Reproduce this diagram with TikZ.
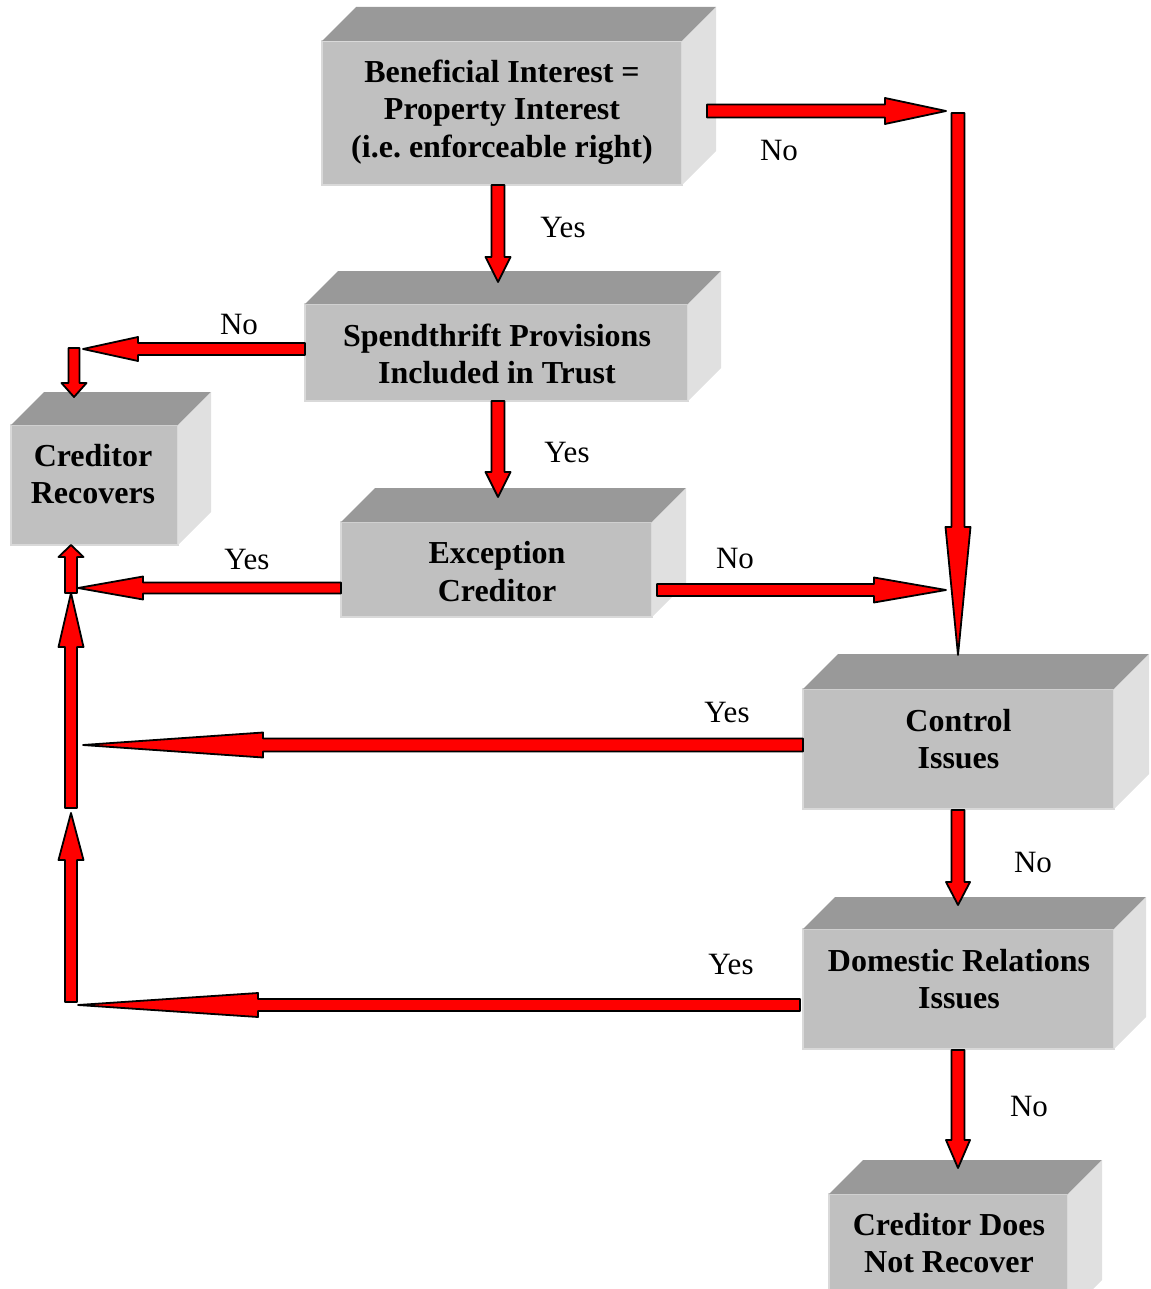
\documentclass[tikz,border=0pt]{standalone}
\usepackage{fontspec}
\setmainfont{Liberation Serif}
\usetikzlibrary{calc}
\frenchspacing

\definecolor{facefront}{HTML}{C0C0C0}
\definecolor{facetop}{HTML}{999999}
\definecolor{faceside}{HTML}{E0E0E0}
\definecolor{arrowred}{HTML}{FF0000}

\tikzset{
  front/.style={draw=facefront!60!white, line width=1.2pt, fill=facefront,
                inner sep=0pt, outer sep=0pt},
  boxtext/.style={align=center, inner sep=0pt,
                  font=\fontsize{32}{37.5}\selectfont\bfseries},
  answer/.style={anchor=base, inner sep=0pt, font=\fontsize{31}{36}\selectfont},
  redarrow/.style={fill=arrowred, draw=black, line width=1.8pt, line join=round},
}

% top and right faces of a block whose front face is node #1, depth #2
\newcommand\cubefaces[2]{%
  \fill[facetop] (#1.north west) -- ([shift={(#2,-#2)}]#1.north west)
     -- ([shift={(#2,-#2)}]#1.north east) -- (#1.north east) -- cycle;
  \fill[faceside] (#1.north east) -- ([shift={(#2,-#2)}]#1.north east)
     -- ([shift={(#2,-#2)}]#1.south east) -- (#1.south east) -- cycle;
}

% block arrow from #1 to tip #2; shaft half width #3, head half width #4, head length #5
\newcommand\blockarrow[5]{%
  \coordinate (ba-h) at ($(#2)!#5pt!(#1)$);
  \filldraw[redarrow] ($(#1)!#3pt!90:(#2)$) -- ($(ba-h)!#3pt!-90:(#1)$)
     -- ($(ba-h)!#4pt!-90:(#1)$) -- (#2) -- ($(ba-h)!#4pt!90:(#1)$)
     -- ($(ba-h)!#3pt!90:(#1)$) -- ($(#1)!#3pt!-90:(#2)$) -- cycle;
}

\begin{document}
\begin{tikzpicture}[x=1pt, y=-1pt]
\useasboundingbox (0,0) rectangle (1150,1289);
\clip (0,0) rectangle (1150,1289);

% ---- blocks ----
\node[front, minimum width=360, minimum height=144] (b1) at (502,113) {};
\cubefaces{b1}{34}
\node[boxtext] (t1) at (502,112) {Beneficial Interest =\\Property Interest\\(i.e. enforceable right)};

\node[front, minimum width=383, minimum height=97] (b2) at (496.5,352.5) {};
\cubefaces{b2}{33}
\node[boxtext] (t2) at (497,354) {Spendthrift Provisions\\Included in Trust};

\node[front, minimum width=167, minimum height=120] (b3) at (94.5,485) {};
\cubefaces{b3}{33}
\node[boxtext] (t3) at (93,474) {Creditor\\Recovers};

\node[front, minimum width=311, minimum height=95] (b4) at (496.5,569.5) {};
\cubefaces{b4}{34}
\node[boxtext] (t4) at (497,571.5) {Exception\\Creditor};

\node[front, minimum width=311, minimum height=120] (b5) at (958.5,749) {};
\cubefaces{b5}{35}
\node[boxtext] (t5) at (958.5,739) {Control\\Issues};

\node[front, minimum width=311, minimum height=120] (b6) at (958.5,989) {};
\cubefaces{b6}{32}
\node[boxtext] (t6) at (959,979) {Domestic Relations\\Issues};

\node[front, minimum width=239, minimum height=120] (b7) at (948.5,1254) {};
\cubefaces{b7}{34}
\node[boxtext] (t7) at (949,1243) {Creditor Does\\Not Recover};

% ---- connector ends ----
\coordinate (s1) at ([xshift=-4pt]b1.south);
\coordinate (e1) at (498,282);
\coordinate (s2) at (707,111);
\coordinate (e2) at (946,111);
\coordinate (s3) at (958,113);
\coordinate (e3) at (958,655);
\coordinate (s4) at ([xshift=1.5pt]b2.south);
\coordinate (e4) at (498,497);
\coordinate (s4b) at (657,590);
\coordinate (e4b) at (946,590);
\coordinate (s5) at ([yshift=3.5pt]b2.west);
\coordinate (e5) at (83,349);
\coordinate (s6) at (74,348);
\coordinate (e6) at (74,397);
\coordinate (s7) at (b4.west |- 0,588);
\coordinate (e7) at (78,588);
\coordinate (s8) at (71,593);
\coordinate (e8) at (71,545);
\coordinate (s9) at (71,808);
\coordinate (e9) at (71,593);
\coordinate (s10) at (71,1002);
\coordinate (e10) at (71,813);
\coordinate (s11) at (b5.west |- 0,745);
\coordinate (e11) at (83,745);
\coordinate (s12) at (800,1005);
\coordinate (e12) at (78,1005);
\coordinate (s13) at (958,810);
\coordinate (e13) at (958,905);
\coordinate (s14) at (958,1050);
\coordinate (e14) at (958,1168);

% ---- arrows ----
\blockarrow{s1}{e1}{6.5}{12.5}{25}
\blockarrow{s2}{e2}{6.5}{13}{61}
\blockarrow{s3}{e3}{6.5}{12.5}{128}
\blockarrow{s4}{e4}{6.5}{12.5}{25}
\blockarrow{s4b}{e4b}{6}{12.5}{72}
\blockarrow{s5}{e5}{6}{12}{55}
\blockarrow{s6}{e6}{5.5}{12.5}{14}
\blockarrow{s7}{e7}{5.5}{11.5}{65}
\blockarrow{s8}{e8}{6}{12.5}{12}
\blockarrow{s9}{e9}{6}{12.5}{54}
\blockarrow{s10}{e10}{6}{12.5}{47}
\blockarrow{s11}{e11}{6.5}{12.5}{180}
\blockarrow{s12}{e12}{6}{12}{180}
\blockarrow{s13}{e13}{6.5}{12}{23}
\blockarrow{s14}{e14}{6.5}{12}{28}

% ---- answers ----
\node[answer] (l2) at (779,161) {No};
\node[answer] (l1) at (563,238) {Yes};
\node[answer] (l5) at (239,334) {No};
\node[answer] (l4) at (567,462) {Yes};
\node[answer] (l7) at (247,569) {Yes};
\node[answer] (l7b) at (735,568) {No};
\node[answer] (l11) at (727,722) {Yes};
\node[answer] (l13) at (1033,872) {No};
\node[answer] (l12) at (731,974) {Yes};
\node[answer] (l14) at (1029,1116) {No};
\end{tikzpicture}
\end{document}
